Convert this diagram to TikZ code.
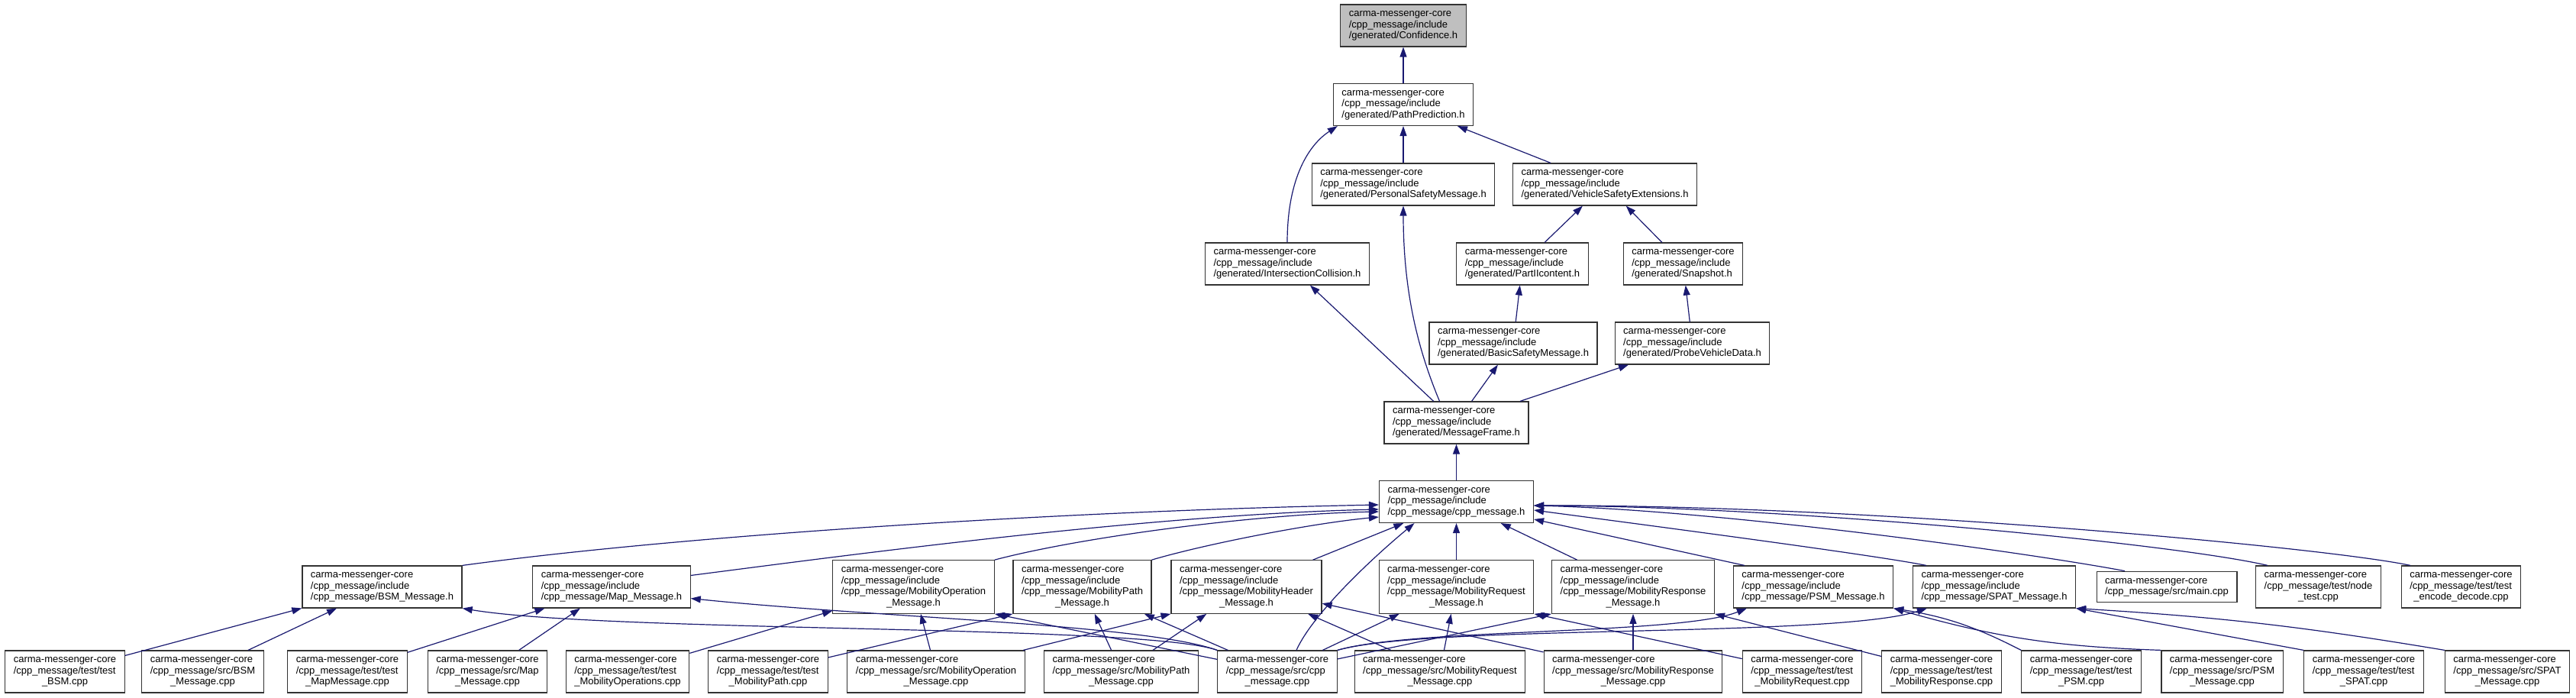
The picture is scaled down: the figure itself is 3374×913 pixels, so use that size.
\documentclass[tikz,border=0pt]{standalone}
\usepackage{fontspec}
\setmainfont{Liberation Sans}
\usepackage{tikz}
\usetikzlibrary{arrows.meta,calc}
\definecolor{edgeblue}{HTML}{191970}
\definecolor{focusgray}{HTML}{BFBFBF}
\newcommand{\flines}[1]{\begin{tabular}{@{}l@{}}#1\end{tabular}}
\newcommand{\lastln}[1]{\multicolumn{1}{@{}c@{}}{#1}}

\begin{document}
\begin{tikzpicture}[
x=1pt,y=1pt,
file/.style={draw=black!80,line width=1.2pt,fill=white,inner xsep=11pt,inner ysep=5.75pt,
  font=\fontsize{13}{14.5}\selectfont},
incl/.style={-{Triangle[length=13pt,width=9pt]},draw=edgeblue,line width=1.2pt}
]
\useasboundingbox (0,0) rectangle (3374,913);
% generated headers
\node[file,fill=focusgray] (conf) at (1838,879.5) {\flines{carma-messenger-core\\/cpp\_message/include\\/generated/Confidence.h}};
\node[file] (pathpred) at (1838,776) {\flines{carma-messenger-core\\/cpp\_message/include\\/generated/PathPrediction.h}};
\node[file] (persafe) at (1838,671.5) {\flines{carma-messenger-core\\/cpp\_message/include\\/generated/PersonalSafetyMessage.h}};
\node[file] (vsext) at (2102,671.5) {\flines{carma-messenger-core\\/cpp\_message/include\\/generated/VehicleSafetyExtensions.h}};
\node[file] (intcoll) at (1686,567.5) {\flines{carma-messenger-core\\/cpp\_message/include\\/generated/IntersectionCollision.h}};
\node[file] (partii) at (1994,567.5) {\flines{carma-messenger-core\\/cpp\_message/include\\/generated/PartIIcontent.h}};
\node[file] (snapshot) at (2204.5,567.5) {\flines{carma-messenger-core\\/cpp\_message/include\\/generated/Snapshot.h}};
\node[file] (basicsafe) at (1982,463.5) {\flines{carma-messenger-core\\/cpp\_message/include\\/generated/BasicSafetyMessage.h}};
\node[file] (probe) at (2216.5,463.5) {\flines{carma-messenger-core\\/cpp\_message/include\\/generated/ProbeVehicleData.h}};
\node[file] (msgframe) at (1907.5,359.5) {\flines{carma-messenger-core\\/cpp\_message/include\\/generated/MessageFrame.h}};
\node[file] (cpph) at (1907.5,256) {\flines{carma-messenger-core\\/cpp\_message/include\\/cpp\_message/cpp\_message.h}};
% message headers and top level sources
\node[file] (bsmh) at (500.5,144.5) {\flines{carma-messenger-core\\/cpp\_message/include\\/cpp\_message/BSM\_Message.h}};
\node[file] (maph) at (801,144.5) {\flines{carma-messenger-core\\/cpp\_message/include\\/cpp\_message/Map\_Message.h}};
\node[file] (mobop) at (1196.5,144.5) {\flines{carma-messenger-core\\/cpp\_message/include\\/cpp\_message/MobilityOperation\\\lastln{\_Message.h}}};
\node[file] (mobpath) at (1417.5,144.5) {\flines{carma-messenger-core\\/cpp\_message/include\\/cpp\_message/MobilityPath\\\lastln{\_Message.h}}};
\node[file] (mobhead) at (1632.5,144.5) {\flines{carma-messenger-core\\/cpp\_message/include\\/cpp\_message/MobilityHeader\\\lastln{\_Message.h}}};
\node[file] (mobreq) at (1907.5,144.5) {\flines{carma-messenger-core\\/cpp\_message/include\\/cpp\_message/MobilityRequest\\\lastln{\_Message.h}}};
\node[file] (mobresp) at (2139,144.5) {\flines{carma-messenger-core\\/cpp\_message/include\\/cpp\_message/MobilityResponse\\\lastln{\_Message.h}}};
\node[file] (psmh) at (2375,144.5) {\flines{carma-messenger-core\\/cpp\_message/include\\/cpp\_message/PSM\_Message.h}};
\node[file] (spath) at (2612,144.5) {\flines{carma-messenger-core\\/cpp\_message/include\\/cpp\_message/SPAT\_Message.h}};
\node[file] (mainc) at (2838,144.5) {\flines{carma-messenger-core\\/cpp\_message/src/main.cpp}};
\node[file] (nodetest) at (3036.5,144.5) {\flines{carma-messenger-core\\/cpp\_message/test/node\\\lastln{\_test.cpp}}};
\node[file] (encdec) at (3223.5,144.5) {\flines{carma-messenger-core\\/cpp\_message/test/test\\\lastln{\_encode\_decode.cpp}}};
% sources and tests
\node[file] (tbsm) at (85,33.5) {\flines{carma-messenger-core\\/cpp\_message/test/test\\\lastln{\_BSM.cpp}}};
\node[file] (sbsm) at (265.5,33.5) {\flines{carma-messenger-core\\/cpp\_message/src/BSM\\\lastln{\_Message.cpp}}};
\node[file] (tmap) at (455,33.5) {\flines{carma-messenger-core\\/cpp\_message/test/test\\\lastln{\_MapMessage.cpp}}};
\node[file] (smap) at (638.5,33.5) {\flines{carma-messenger-core\\/cpp\_message/src/Map\\\lastln{\_Message.cpp}}};
\node[file] (tmobops) at (822,33.5) {\flines{carma-messenger-core\\/cpp\_message/test/test\\\lastln{\_MobilityOperations.cpp}}};
\node[file] (tmobpath) at (1006,33.5) {\flines{carma-messenger-core\\/cpp\_message/test/test\\\lastln{\_MobilityPath.cpp}}};
\node[file] (smobop) at (1226,33.5) {\flines{carma-messenger-core\\/cpp\_message/src/MobilityOperation\\\lastln{\_Message.cpp}}};
\node[file] (smobpath) at (1468.5,33.5) {\flines{carma-messenger-core\\/cpp\_message/src/MobilityPath\\\lastln{\_Message.cpp}}};
\node[file] (scpp) at (1673,33.5) {\flines{carma-messenger-core\\/cpp\_message/src/cpp\\\lastln{\_message.cpp}}};
\node[file] (smobreq) at (1886,33.5) {\flines{carma-messenger-core\\/cpp\_message/src/MobilityRequest\\\lastln{\_Message.cpp}}};
\node[file] (smobresp) at (2139,33.5) {\flines{carma-messenger-core\\/cpp\_message/src/MobilityResponse\\\lastln{\_Message.cpp}}};
\node[file] (tmobreq) at (2360.5,33.5) {\flines{carma-messenger-core\\/cpp\_message/test/test\\\lastln{\_MobilityRequest.cpp}}};
\node[file] (tmobresp) at (2543,33.5) {\flines{carma-messenger-core\\/cpp\_message/test/test\\\lastln{\_MobilityResponse.cpp}}};
\node[file] (tpsm) at (2726,33.5) {\flines{carma-messenger-core\\/cpp\_message/test/test\\\lastln{\_PSM.cpp}}};
\node[file] (spsm) at (2910.5,33.5) {\flines{carma-messenger-core\\/cpp\_message/src/PSM\\\lastln{\_Message.cpp}}};
\node[file] (tspat) at (3096,33.5) {\flines{carma-messenger-core\\/cpp\_message/test/test\\\lastln{\_SPAT.cpp}}};
\node[file] (sspat) at (3284,33.5) {\flines{carma-messenger-core\\/cpp\_message/src/SPAT\\\lastln{\_Message.cpp}}};
% generated includes
\draw[incl] (pathpred) -- (conf);
\draw[incl] (persafe) -- (pathpred);
\draw[incl] (vsext) -- (pathpred);
\draw[incl] (intcoll.north) .. controls +(0,85) and +(-37,-24) .. ([xshift=6pt]pathpred.south west);
\draw[incl] (partii) -- (vsext);
\draw[incl] (snapshot) -- (vsext);
\draw[incl] (basicsafe) -- (partii);
\draw[incl] (probe) -- (snapshot);
\draw[incl] (msgframe) -- (intcoll);
\draw[incl] ([xshift=-22pt]msgframe.north) .. controls +(-25,60) and +(0,-120) .. (persafe.south);
\draw[incl] (msgframe) -- (basicsafe);
\draw[incl] (msgframe) -- (probe);
\draw[incl] (cpph) -- (msgframe);
% into cpp_message.h
\draw[incl] (bsmh.north east) .. controls +(294,40) and +(-406,-8) .. ([yshift=-4pt]cpph.west);
\draw[incl] ([yshift=15pt]maph.east) .. controls +(195,25) and +(-306,-7) .. ([yshift=-10pt]cpph.west);
\draw[incl] (mobop.north east) .. controls +(118,31) and +(-156,-3) .. ([yshift=-13pt]cpph.west);
\draw[incl] (mobpath.north east) .. controls +(71,21) and +(-86,-8) .. ([yshift=-20pt]cpph.west);
\draw[incl] (mobhead) -- (cpph);
\draw[incl] (mobreq) -- (cpph);
\draw[incl] (mobresp) -- (cpph);
\draw[incl] ([xshift=15pt]psmh.north west) -- ([yshift=-23pt]cpph.east);
\draw[incl] ([xshift=18pt]spath.north west) .. controls +(-70,14) and +(150,-20) .. ([yshift=-11pt]cpph.east);
\draw[incl] ([xshift=-55pt]mainc.north) .. controls +(-133,25) and +(241,-6) .. ([yshift=-5pt]cpph.east);
\draw[incl] ([xshift=-66.5pt]nodetest.north) .. controls +(-120,28) and +(341,-1) .. ([yshift=-5pt]cpph.east);
\draw[incl] ([xshift=-66.5pt]encdec.north) .. controls +(-107,23) and +(441,1) .. ([yshift=-5pt]cpph.east);
\draw[incl] ([xshift=25pt]scpp.north) .. controls +(22,49) and +(-52,-43) .. ([xshift=-55pt]cpph.south);
% sources and tests into message headers
\draw[incl] (tbsm) -- (bsmh);
\draw[incl] (sbsm) -- (bsmh);
\draw[incl] (scpp.north west) .. controls +(-96,34) and +(194,-32) .. (bsmh.south east);
\draw[incl] (tmap) -- (maph);
\draw[incl] (smap) -- (maph);
\draw[incl] (scpp.north west) .. controls +(-96,34) and +(243,-25) .. ([yshift=13pt]maph.south east);
\draw[incl] (tmobops) -- (mobop);
\draw[incl] (smobop) -- (mobop);
\draw[incl] (scpp) -- (mobop.south east);
\draw[incl] (tmobpath) -- (mobpath.south west);
\draw[incl] (smobpath) -- (mobpath);
\draw[incl] (scpp) -- (mobpath);
\draw[incl] (smobop) -- (mobhead.south west);
\draw[incl] (smobpath) -- (mobhead);
\draw[incl] (smobreq) -- (mobhead);
\draw[incl] (smobresp) -- (mobhead);
\draw[incl] (scpp) -- (mobreq);
\draw[incl] (smobreq) -- (mobreq);
\draw[incl] (tmobreq) -- (mobreq.south east);
\draw[incl] (scpp) -- (mobresp.south west);
\draw[incl] (smobresp) -- (mobresp);
\draw[incl] (tmobresp) -- (mobresp.south east);
\draw[incl] (scpp.north east) .. controls +(100,29) and +(-88,-35) .. ([xshift=18pt]psmh.south west);
\draw[incl] (tpsm.north west) to[bend right=9] (psmh.south east);
\draw[incl] (spsm.north west) to[bend left=7] (psmh.south east);
\draw[incl] (scpp.north east) .. controls +(120,34) and +(-123,-39) .. ([xshift=19pt]spath.south west);
\draw[incl] (tspat.north west) -- (spath.south east);
\draw[incl] (sspat.north west) to[bend right=3] (spath.south east);
\end{tikzpicture}
\end{document}
